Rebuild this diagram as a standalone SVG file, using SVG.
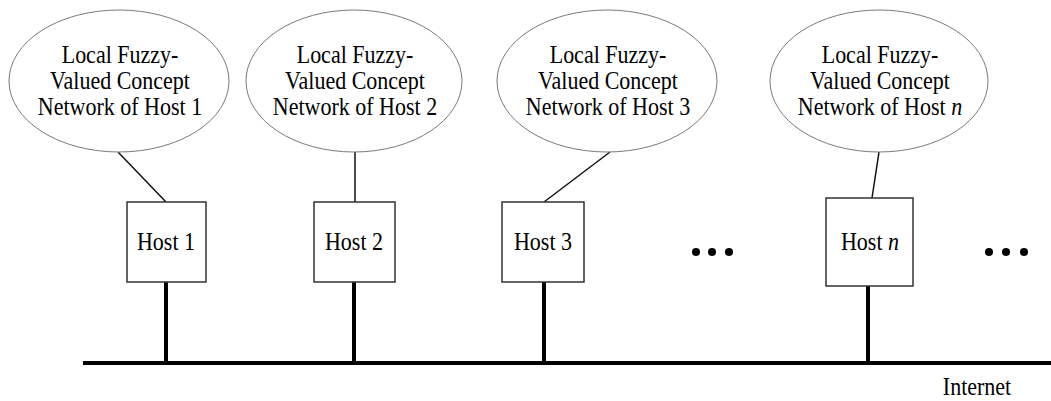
<svg xmlns="http://www.w3.org/2000/svg" width="1051" height="401" viewBox="0 0 1051 401">
<style>
.ell{fill:#fff;stroke:#7a7a7a;stroke-width:1}
.box{fill:#fff;stroke:#333;stroke-width:1.5}
.t{font-family:"Liberation Serif","Times New Roman",serif;font-size:22px;fill:#000;text-anchor:middle}
.link{stroke:#111;stroke-width:1.5;fill:none}
.bus{stroke:#000;stroke-width:4;fill:none}
.dot{fill:#000}
</style>
<rect width="1051" height="401" fill="#fff"/>
<g id="connectors">
<line class="link" x1="118" y1="152" x2="166" y2="202"/>
<line class="link" x1="355" y1="152" x2="355" y2="202"/>
<line class="link" x1="610" y1="152" x2="544" y2="202"/>
<line class="link" x1="879" y1="152" x2="872" y2="198"/>
<line class="bus" x1="166" y1="282" x2="166" y2="363"/>
<line class="bus" x1="354" y1="282" x2="354" y2="363"/>
<line class="bus" x1="544" y1="282" x2="544" y2="363"/>
<line class="bus" x1="868" y1="286" x2="868" y2="363"/>
<line class="bus" x1="83" y1="363" x2="1051" y2="363"/>
</g>
<g id="concept1">
<ellipse class="ell" cx="119" cy="81" rx="110" ry="71"/>
<text class="t" transform="translate(120 63) scale(1 1.16)">Local Fuzzy-</text>
<text class="t" transform="translate(120 89) scale(1 1.16)">Valued Concept</text>
<text class="t" transform="translate(120 115) scale(1 1.16)">Network of Host 1</text>
</g>
<g id="concept2">
<ellipse class="ell" cx="354" cy="81" rx="108" ry="71"/>
<text class="t" transform="translate(355 63) scale(1 1.16)">Local Fuzzy-</text>
<text class="t" transform="translate(355 89) scale(1 1.16)">Valued Concept</text>
<text class="t" transform="translate(355 115) scale(1 1.16)">Network of Host 2</text>
</g>
<g id="concept3">
<ellipse class="ell" cx="607" cy="81" rx="110" ry="71"/>
<text class="t" transform="translate(608 63) scale(1 1.16)">Local Fuzzy-</text>
<text class="t" transform="translate(608 89) scale(1 1.16)">Valued Concept</text>
<text class="t" transform="translate(608 115) scale(1 1.16)">Network of Host 3</text>
</g>
<g id="conceptn">
<ellipse class="ell" cx="879" cy="81" rx="109" ry="71"/>
<text class="t" transform="translate(880 63) scale(1 1.16)">Local Fuzzy-</text>
<text class="t" transform="translate(880 89) scale(1 1.16)">Valued Concept</text>
<text class="t" transform="translate(880 115) scale(1 1.16)">Network of Host <tspan font-style="italic">n</tspan></text>
</g>
<g id="host1">
<rect class="box" x="127" y="202" width="79" height="80"/>
<text class="t" transform="translate(166 250) scale(1 1.16)">Host 1</text>
</g>
<g id="host2">
<rect class="box" x="314" y="202" width="81" height="80"/>
<text class="t" transform="translate(354 250) scale(1 1.16)">Host 2</text>
</g>
<g id="host3">
<rect class="box" x="502" y="202" width="82" height="80"/>
<text class="t" transform="translate(543 250) scale(1 1.16)">Host 3</text>
</g>
<g id="hostn">
<rect class="box" x="826" y="198" width="87" height="88"/>
<text class="t" transform="translate(870 250) scale(1 1.16)">Host <tspan font-style="italic">n</tspan></text>
</g>
<g id="ellipsis1">
<circle class="dot" cx="696" cy="252" r="4"/>
<circle class="dot" cx="712" cy="252" r="4"/>
<circle class="dot" cx="729" cy="252" r="4"/>
</g>
<g id="ellipsis2">
<circle class="dot" cx="989" cy="252" r="4"/>
<circle class="dot" cx="1006" cy="252" r="4"/>
<circle class="dot" cx="1024" cy="252" r="4"/>
</g>
<g id="internet">
<text class="t" transform="translate(977 395) scale(1 1.16)">Internet</text>
</g>
</svg>
